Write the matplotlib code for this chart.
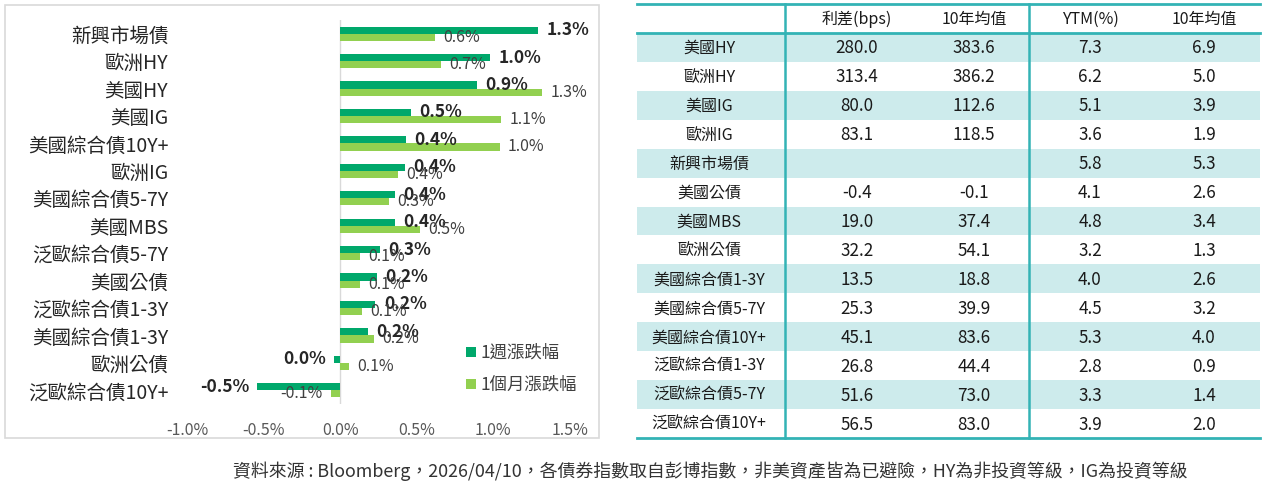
import matplotlib
matplotlib.use("Agg")
import matplotlib.pyplot as plt
from matplotlib.patches import Rectangle
import numpy as np

plt.rcParams['font.family'] = ['Noto Sans CJK TC', 'DejaVu Sans']

# ---------------- data ----------------
categories = ['新興市場債', '歐洲HY', '美國HY', '美國IG', '美國綜合債10Y+', '歐洲IG',
              '美國綜合債5-7Y', '美國MBS', '泛歐綜合債5-7Y', '美國公債', '泛歐綜合債1-3Y',
              '美國綜合債1-3Y', '歐洲公債', '泛歐綜合債10Y+']
weekly = [1.29, 0.98, 0.89, 0.46, 0.43, 0.42, 0.36, 0.36, 0.26, 0.24, 0.23, 0.18, -0.04, -0.54]
monthly = [0.62, 0.66, 1.32, 1.05, 1.04, 0.38, 0.32, 0.52, 0.13, 0.13, 0.14, 0.22, 0.06, -0.06]
series_names = ['1週漲跌幅', '1個月漲跌幅']
x_ticks = [-1.0, -0.5, 0.0, 0.5, 1.0, 1.5]

table_header = ['', '利差(bps)', '10年均值', 'YTM(%)', '10年均值']
table_rows = ['美國HY', '歐洲HY', '美國IG', '歐洲IG', '新興市場債', '美國公債', '美國MBS', '歐洲公債',
              '美國綜合債1-3Y', '美國綜合債5-7Y', '美國綜合債10Y+', '泛歐綜合債1-3Y',
              '泛歐綜合債5-7Y', '泛歐綜合債10Y+']
spread = [280.0, 313.4, 80.0, 83.1, None, -0.4, 19.0, 32.2, 13.5, 25.3, 45.1, 26.8, 51.6, 56.5]
spread_avg = [383.6, 386.2, 112.6, 118.5, None, -0.1, 37.4, 54.1, 18.8, 39.9, 83.6, 44.4, 73.0, 83.0]
ytm = [7.3, 6.2, 5.1, 3.6, 5.8, 4.1, 4.8, 3.2, 4.0, 4.5, 5.3, 2.8, 3.3, 3.9]
ytm_avg = [6.9, 5.0, 3.9, 1.9, 5.3, 2.6, 3.4, 1.3, 2.6, 3.2, 4.0, 0.9, 1.4, 2.0]

footnote = '資料來源 : Bloomberg，2026/04/10，各債券指數取自彭博指數，非美資產皆為已避險，HY為非投資等級，IG為投資等級'

# ---------------- style ----------------
W, H = 1268, 483
DARK = '#00A86B'
LIGHT = '#92D050'
TEAL = '#33B3B5'
SHADE = '#CDEBEC'

fig = plt.figure(figsize=(W / 100, H / 100), dpi=100)

# overlay axes in pixel coordinates
ov = fig.add_axes([0, 0, 1, 1])
ov.set_xlim(0, W)
ov.set_ylim(H, 0)
ov.axis('off')

# chart border
ov.add_patch(Rectangle((5, 5), 594, 433, fill=False, ec='#D9D9D9', lw=1.2))

# ---------------- bar chart ----------------
ax_l, ax_r, ax_t, ax_b = 187, 570, 20, 404
ax = fig.add_axes([ax_l / W, 1 - ax_b / H, (ax_r - ax_l) / W, (ax_b - ax_t) / H])
ax.patch.set_alpha(0)
y = np.arange(len(categories))
bh = 0.26
b1 = ax.barh(y - bh / 2, weekly, height=bh, color=DARK, label=series_names[0], zorder=2)
b2 = ax.barh(y + bh / 2, monthly, height=bh, color=LIGHT, label=series_names[1], zorder=2)
ax.set_xlim(-1.0, 1.5)
ax.set_ylim(len(categories) - 0.5, -0.5)
ax.axvline(0, color='#D9D9D9', lw=1, zorder=1)
for s in ax.spines.values():
    s.set_visible(False)
ax.set_xticks(x_ticks)
ax.set_xticklabels([f'{t:.1f}%' for t in x_ticks], fontsize=11.5, color='#595959')
ax.set_yticks(y)
ax.set_yticklabels(categories, fontsize=14, color='#262626')
ax.tick_params(axis='x', length=0, pad=13)
ax.tick_params(axis='y', length=0, pad=13.5)


def fmt(v):
    r = round(v, 1)
    if r == 0:
        r = 0.0
    return f'{r:.1f}%'


for yi, v in zip(y - bh / 2, weekly):
    ax.annotate(fmt(v), (v, yi), xytext=(6 if v >= 0 else -6, 0), textcoords='offset points',
                ha='left' if v >= 0 else 'right', va='center', fontsize=12.5,
                color='#262626', fontweight='bold', zorder=3)
for yi, v in zip(y + bh / 2, monthly):
    ax.annotate(fmt(v), (v, yi), xytext=(6 if v >= 0 else -6, 0), textcoords='offset points',
                ha='left' if v >= 0 else 'right', va='center', fontsize=11.5,
                color='#404040', zorder=3)

leg = ax.legend(handles=[b1, b2], loc='upper left',
                bbox_to_anchor=(466 / W, 1 - 344 / H), bbox_transform=fig.transFigure,
                frameon=False, fontsize=12.5, handlelength=0.55, handleheight=0.55,
                handletextpad=0.3, labelspacing=0.8, borderpad=0, borderaxespad=0)
for t in leg.get_texts():
    t.set_color('#404040')

# ---------------- table ----------------
t_left, t_right = 637, 1260
t_top, head_bot, t_bot = 4, 33, 438
col_centers = [709, 857, 974, 1090, 1204]
v_lines = [785, 1029]
n = len(table_rows)
rh = (t_bot - head_bot) / n

for i in range(n):
    if i % 2 == 0:
        ov.add_patch(Rectangle((t_left, head_bot + i * rh), t_right - t_left, rh,
                               color=SHADE, lw=0, zorder=1))

ov.plot([t_left, t_right], [t_top, t_top], color=TEAL, lw=2, zorder=3)
ov.plot([t_left, t_right], [head_bot, head_bot], color=TEAL, lw=2, zorder=3)
ov.plot([t_left, t_right], [t_bot, t_bot], color=TEAL, lw=2, zorder=3)
for vx in v_lines:
    ov.plot([vx, vx], [t_top, t_bot], color=TEAL, lw=1.8, zorder=3)

for c, htxt in zip(col_centers, table_header):
    if htxt:
        ov.text(c, (t_top + head_bot) / 2 + 1, htxt, ha='center', va='center',
                fontsize=11.5, color='#1a1a1a', zorder=4)

for i in range(n):
    yc = head_bot + (i + 0.5) * rh + 1
    ov.text(col_centers[0], yc, table_rows[i], ha='center', va='center', fontsize=11.5,
            color='#1a1a1a', zorder=4)
    for c, col in zip(col_centers[1:], [spread, spread_avg, ytm, ytm_avg]):
        v = col[i]
        if v is not None:
            ov.text(c, yc, f'{v:.1f}', ha='center', va='center', fontsize=12.3,
                    color='#1a1a1a', zorder=4)

# footnote
ov.text(710, 471, footnote, ha='center', va='center', fontsize=12.9, color='#333333')

fig.savefig('out.png', dpi=100)
